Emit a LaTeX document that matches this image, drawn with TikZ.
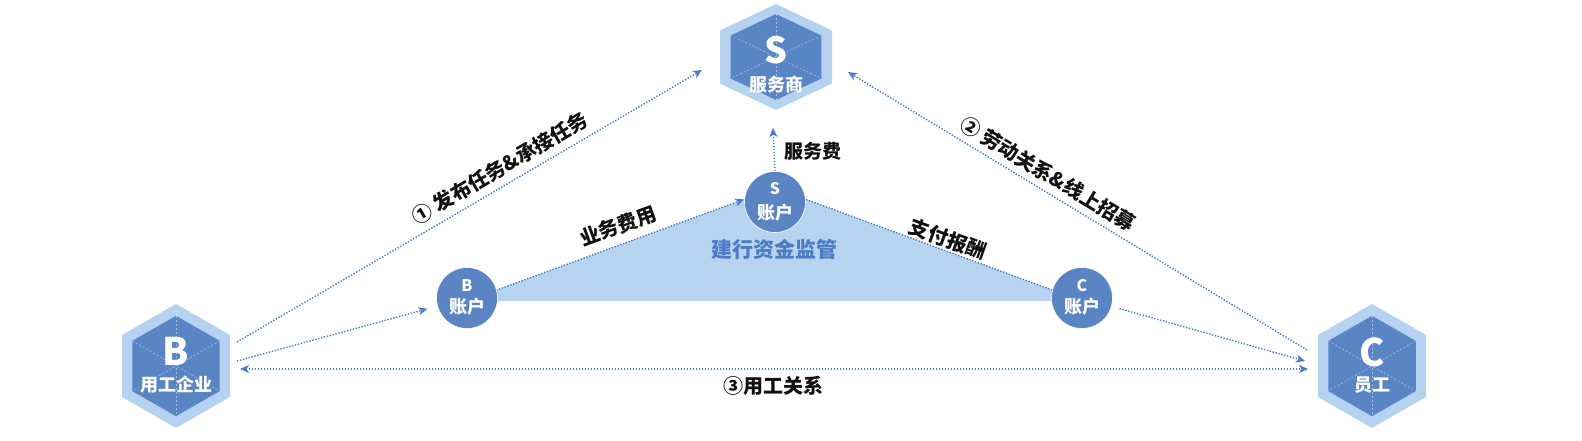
\documentclass[tikz,border=0pt]{standalone}
\usepackage{fontspec}
\setmainfont{Noto Sans CJK SC}
\usetikzlibrary{arrows.meta}
\definecolor{hexout}{HTML}{B5D3F0}
\definecolor{hexin}{HTML}{5A85C5}
\definecolor{accfill}{HTML}{5A84C4}
\definecolor{trifill}{HTML}{B6D4F0}
\definecolor{lineblue}{HTML}{4A7CCB}
\definecolor{txtblue}{HTML}{4D7CC4}
\definecolor{txtdark}{HTML}{111111}
\tikzset{
  conn/.style={draw=lineblue, line width=1.4pt, dash pattern=on 1.4pt off 1.6pt,
    -{Stealth[length=9pt,width=8pt,inset=2.5pt]}},
  hexletter/.style={text=white, font=\bfseries\fontsize{36}{36}\selectfont, inner sep=0pt},
  hexlabel/.style={text=white, font=\bfseries\fontsize{18}{18}\selectfont, inner sep=0pt},
  acc/.style={circle, fill=accfill, draw=white, line width=0.6pt, minimum size=61pt, inner sep=0pt},
  accletter/.style={text=white, font=\bfseries\fontsize{16}{16}\selectfont, inner sep=0pt},
  acclabel/.style={text=white, font=\bfseries\fontsize{18}{18}\selectfont, inner sep=0pt},
  lbl/.style={text=txtdark, font=\bfseries\fontsize{20}{20}\selectfont, inner sep=0pt},
  hexguide/.style={draw=white!45!hexin, line width=0.6pt, dash pattern=on 2pt off 2pt},
}
\newcommand\hexdraw{%
  \fill[hexout] (0,-1) -- (1,-0.5) -- (1,0.5) -- (0,1) -- (-1,0.5) -- (-1,-0.5) -- cycle;
  \fill[hexin] (0,-0.81) -- (0.81,-0.405) -- (0.81,0.405) -- (0,0.81) -- (-0.81,0.405) -- (-0.81,-0.405) -- cycle;
  \draw[hexguide] (0,-0.81) -- (0,0.81);
  \draw[hexguide] (0.81,-0.405) -- (-0.81,0.405);
  \draw[hexguide] (-0.81,-0.405) -- (0.81,0.405);
}
\begin{document}
\begin{tikzpicture}[x=1pt,y=-1pt]
\useasboundingbox (0,0) rectangle (1582,440);
% triangle (fund supervision)
\coordinate (Tl) at (467,301);
\coordinate (Ta) at (775,188);
\coordinate (Tr) at (1082,301);
\fill[trifill] (Tl) -- (Ta) -- (Tr) -- cycle;
% hexagons
\begin{scope}[shift={(776,57)}, xscale=56, yscale=53] \hexdraw \end{scope}
\begin{scope}[shift={(176,366)}, xscale=54, yscale=62] \hexdraw \end{scope}
\begin{scope}[shift={(1372,366)}, xscale=54, yscale=62] \hexdraw \end{scope}
\node[hexletter] (Sl) at (776,50) {S};
\node[hexlabel] (St) at (776,85) {服务商};
\node[hexletter, font=\bfseries\fontsize{38}{38}\selectfont] (Bl) at (176,351) {B};
\node[hexlabel] (Bt) at (176,385) {用工企业};
\node[hexletter, font=\bfseries\fontsize{38}{38}\selectfont] (Cl) at (1372,352) {C};
\node[hexlabel] (Ct) at (1372,385) {员工};
% hex ports
\coordinate (B1) at (237,342);
\coordinate (B2) at (237,361);
\coordinate (B3) at (240,369);
\coordinate (S1) at (702,70);
\coordinate (S2) at (848,72);
\coordinate (S3) at (773,128);
\coordinate (C1) at (1307,350);
\coordinate (C2) at (1305,361);
\coordinate (C3) at (1308,369);
% triangle edges
\draw[conn, shorten <=31pt, shorten >=33pt] (Tl) -- (Ta);
\draw[conn, -, shorten <=33pt, shorten >=31pt] (Ta) -- (Tr);
% accounts
\node[acc] (Bacc) at (467,298) {};
\node[acc] (Sacc) at (775,202) {};
\node[acc] (Cacc) at (1082,298) {};
\node[accletter] at (467,286) {B};
\node[acclabel] at (467,307) {账户};
\node[accletter] at (775,189) {S};
\node[acclabel] at (775,213) {账户};
\node[accletter] at (1082,286) {C};
\node[acclabel] at (1082,307) {账户};
\node[text=txtblue, font=\bfseries\fontsize{21}{21}\selectfont, inner sep=0pt] (Jg) at (774,249) {建行资金监管};
% connectors
\draw[conn] (B1) -- (S1);
\draw[conn, shorten >=41pt] (B2) -- (Bacc.center);
\draw[conn, {Stealth[length=9pt,width=8pt,inset=2.5pt]}-{Stealth[length=9pt,width=8pt,inset=2.5pt]}] (B3) -- (C3);
\draw[conn, shorten <=39pt] (Cacc.center) -- (C2);
\draw[conn] (C1) -- (S2);
\draw[conn] (Sacc.north) -- (S3);
% labels
\node[lbl, rotate=30.4] (L1) at (500,168) {① 发布任务\&承接任务};
\node[lbl, rotate=-31.2] (L2) at (1048,174) {② 劳动关系\&线上招募};
\node[lbl] (L3) at (773,386) {③用工关系};
\node[lbl, font=\bfseries\fontsize{19}{19}\selectfont] (L4) at (813,151) {服务费};
\node[lbl, rotate=20.1] (L5) at (618,226) {业务费用};
\node[lbl, rotate=-20.1] (L6) at (948,239) {支付报酬};
\end{tikzpicture}
\end{document}
